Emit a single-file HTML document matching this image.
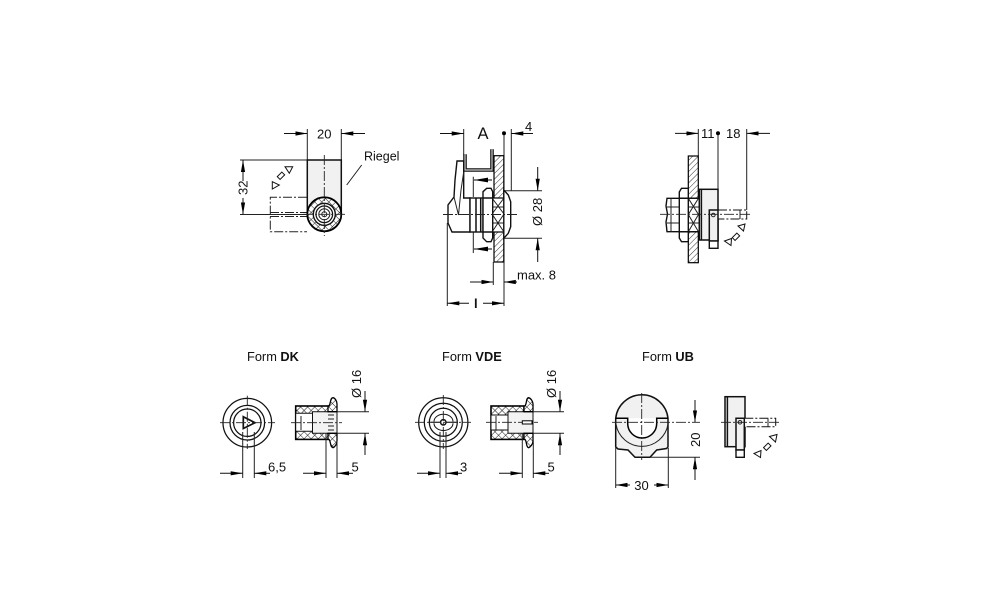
<!DOCTYPE html>
<html><head><meta charset="utf-8"><style>
html,body{margin:0;padding:0;background:#fff;width:1000px;height:611px;overflow:hidden}
svg{display:block}
text{font-family:"Liberation Sans",sans-serif;font-size:13px;fill:#111}
.o{fill:none;stroke:#111;stroke-width:1.5}
.r{fill:none;stroke:#111;stroke-width:1.25}
.g{fill:#f1f1f1;stroke:#111;stroke-width:1.5}
.w{fill:#fff;stroke:#111;stroke-width:1.4}
.d{fill:none;stroke:#222;stroke-width:1}
.c{fill:none;stroke:#222;stroke-width:.9;stroke-dasharray:10 2 2 2}
.p{fill:none;stroke:#222;stroke-width:1;stroke-dasharray:9 2 2 2}
.a{fill:none;stroke:#111;stroke-width:1;marker-end:url(#m)}
.t{fill:#fff;stroke:#111;stroke-width:1}
.f{font-size:12.8px}
</style></head><body>
<svg width="1000" height="611" viewBox="0 0 1000 611" xmlns="http://www.w3.org/2000/svg">
<defs>
<marker id="m" markerUnits="userSpaceOnUse" markerWidth="13" markerHeight="6" refX="12" refY="3" orient="auto"><path d="M0,.9 L12,3 L0,5.1 Z" fill="#000"/></marker>
<pattern id="h" width="4" height="4" patternUnits="userSpaceOnUse" patternTransform="rotate(45)"><rect width="4" height="4" fill="#fff"/><line x1="0" y1="0" x2="0" y2="4" stroke="#333" stroke-width="1"/></pattern>
<pattern id="x" width="5" height="5" patternUnits="userSpaceOnUse" patternTransform="rotate(45)"><rect width="5" height="5" fill="#fff"/><path d="M0,0V5M0,0H5" stroke="#222" stroke-width="1.1"/></pattern>
</defs>

<!-- VIEW 1 -->
<path class="d" d="M307.3,129V160M341.3,129V198M240,160H307M240,214.5H307M346.7,185L361.7,165"/>
<line class="a" x1="284" y1="133.5" x2="307.3" y2="133.5"/><line class="a" x1="365" y1="133.5" x2="341.3" y2="133.5"/>
<line class="a" x1="243" y1="181" x2="243" y2="160"/><line class="a" x1="243" y1="198" x2="243" y2="214.5"/>
<text x="317" y="138.5">20</text><text x="364" y="160.5" style="font-size:12.5px">Riegel</text>
<text transform="translate(247.5,195) rotate(-90)">32</text>
<rect class="g" x="307.3" y="160" width="34" height="54"/>
<path class="p" d="M307,197.3H270.3V231.7H307M270,212.5H307M270,216.5H307"/>
<polygon class="t" points="285,166.7 292.7,166.7 289.3,173.3"/><rect class="t" x="277.7" y="173.7" width="6.5" height="4" transform="rotate(-45 281 175.7)"/><polygon class="t" points="272.3,181.7 272.3,189 279.3,185"/>
<circle cx="324.3" cy="214.3" r="17" fill="url(#x)" stroke="#000" stroke-width="1.8"/>
<circle class="w" cx="324.3" cy="214.3" r="11"/><circle class="r" cx="324.3" cy="214.3" r="8.3"/><circle class="d" cx="324.3" cy="214.3" r="5.5" fill="#e8e8e8"/><circle class="d" cx="324.3" cy="214.3" r="2.5"/>
<path class="c" d="M324.3,155V236M303,214.3H347"/>

<!-- VIEW 2 -->
<path class="d" d="M463.7,129V155M504,133V306M511.3,129V190.7M504,190.7H542M504,238.3H542M493.3,262V285M447.3,223V306M473.3,176.7V197M473.3,232V253"/>
<line class="a" x1="440" y1="133.5" x2="463.7" y2="133.5"/><line class="a" x1="533" y1="133.5" x2="511.3" y2="133.5"/>
<circle cx="504" cy="133.3" r="2" fill="#000"/>
<text x="477.5" y="139" style="font-size:16.5px">A</text><text x="525" y="131">4</text>
<line class="a" x1="537.7" y1="167" x2="537.7" y2="190.7"/><line class="a" x1="537.7" y1="262" x2="537.7" y2="238.3"/>
<text transform="translate(542,226) rotate(-90)">Ø 28</text>
<line class="a" x1="470" y1="282" x2="493.3" y2="282"/><line class="a" x1="517" y1="282" x2="503.8" y2="282"/>
<text x="517" y="279.5">max. 8</text>
<line class="a" x1="469" y1="303.3" x2="447.3" y2="303.3"/><line class="a" x1="483" y1="303.3" x2="504" y2="303.3"/>
<text x="474" y="308" font-weight="bold">l</text>
<path d="M492,180 L474,180 M492,249 L474,249" stroke="#000" stroke-width="1"/><path d="M474,180 L488,177.6 V182.4Z M474,249 L488,246.6 V251.4Z" fill="#000"/>
<rect x="494" y="155.7" width="9.8" height="106.3" fill="url(#h)" stroke="#000" stroke-width="1.2"/>
<path d="M465,154.3V170H492V149.3" fill="none" stroke="#111" stroke-width="3.6"/><path d="M465,154.3V170H492V149.3" fill="none" stroke="#ccc" stroke-width="1.2"/>
<path class="w" d="M457,161H463.7V198H470V232H452L448,223V205L454,197L455,180Z"/>
<path class="d" d="M463.7,172L461,190L458.5,215L454,197"/>
<rect class="w" x="470" y="198" width="13" height="34"/><path class="o" d="M476,198V232M480.7,198V232"/>
<rect x="492" y="198" width="12" height="34" fill="#fff" stroke="#000" stroke-width="1.2"/><path class="d" d="M492,198L504,214L492,232M504,198L492,214L504,232M492,207H504M492,223H504"/>
<path class="w" d="M483,191.7L486.7,188.3H491L492.7,191.7V238L491,241.7H486.7L483,238ZM483,198H492.7M483,232H492.7"/>
<path class="w" d="M503.8,190L508.3,195L510.7,201.7V226.7L508.3,233.3L503.8,238.3Z"/>
<path class="c" d="M443,214.5H518"/>

<!-- VIEW 3 -->
<path class="d" d="M698.3,129V156M718,133V190M746.7,129V210"/>
<line class="a" x1="675" y1="133.4" x2="698.3" y2="133.4"/><line class="a" x1="770" y1="133.4" x2="746.7" y2="133.4"/>
<circle cx="718" cy="133.3" r="2" fill="#000"/>
<text x="701" y="138">11</text><text x="726" y="138">18</text>
<rect x="688.3" y="156" width="10" height="106.7" fill="url(#h)" stroke="#000" stroke-width="1.2"/>
<rect x="688.3" y="198.3" width="10.5" height="33.4" fill="#fff"/><path class="d" d="M688.3,198.3L698.5,214.5L688.3,231.7M698.5,198.3L688.3,214.5L698.5,231.7M688.3,207H699M688.3,223H699"/><path class="o" d="M688.3,198.3H699M688.3,231.7H699"/>
<rect class="g" x="699.3" y="189.3" width="18.7" height="50.7"/><path class="o" d="M701.4,189.3V240"/>
<rect x="718" y="210" width="28.7" height="9" fill="#fff" stroke="#111" stroke-width="1" stroke-dasharray="9 2 2 2"/><path class="d" d="M740,210V219"/>
<path class="g" d="M709.3,210H718V241H709.3Z"/><rect class="w" x="709.3" y="241" width="8.7" height="7.3"/>
<circle class="d" cx="713.3" cy="215" r="1.8"/>
<path class="w" d="M681.5,188.3H688.3V241.7H681.5L679.3,238V192Z"/><path class="o" d="M679.3,198.3H688.3M679.3,231.7H688.3"/>
<path class="w" d="M679.3,198.3H667L666,206L667.5,214L666,222L667,231.7H679.3Z"/><path class="d" d="M671,198.3V231.7M667,207H679.3M667,223H679.3"/>
<path class="c" d="M660,214.3H752"/>
<polygon class="t" points="738,226 745,224 743.5,231"/><rect class="t" x="732.7" y="234.7" width="6.5" height="4" transform="rotate(-45 736 236.7)"/><polygon class="t" points="724.5,241 731.5,238.5 731,245.5"/>

<!-- FORM DK -->
<text x="247" y="361" class="f">Form <tspan font-weight="bold">DK</tspan></text>
<circle class="r" cx="247.3" cy="422.7" r="24.3"/><circle class="r" cx="247.3" cy="422.7" r="17.3"/><circle class="r" cx="247.3" cy="422.7" r="13.7"/>
<polygon class="w" points="243.3,416.7 255,422.7 243.3,428.5" style="stroke-width:1.7"/>
<path class="c" d="M220,422.7H275M247.3,395.7V449"/>
<path class="d" d="M242.7,432V478M254.3,432V478"/>
<line class="a" x1="220" y1="473.3" x2="242.7" y2="473.3"/><line class="a" x1="270" y1="473.3" x2="254.3" y2="473.3"/>
<text x="268" y="471.7">6,5</text>
<rect x="295.7" y="406" width="33" height="33.4" fill="url(#x)" stroke="#000" stroke-width="1.6"/>
<path d="M295.7,413.3H313V431.3H295.7Z" fill="#fff" stroke="#111" stroke-width="1"/><path d="M312.5,411.7H337V433.3H312.5Z" fill="#f3f3f3" stroke="#111" stroke-width="1"/>
<path d="M328,406H329C331,403 330,398 333,397.7C335,398 337,401 337,404V411.7H328ZM328,439.4H329C331,442 330,447 333,447.7C335,447 337,444 337,441V433.3H328Z" fill="url(#x)" stroke="#000" stroke-width="1.3"/>
<path class="d" d="M328,415H334M328,419H334M328,426H334M328,430H334M301,416V430"/>
<path class="c" d="M291,422.7H342"/>
<path class="d" d="M337,411.7H369M337,433.3H369M326,433V478M337,441V478"/>
<line class="a" x1="365" y1="391" x2="365" y2="411.7"/><line class="a" x1="365" y1="455" x2="365" y2="433.3"/>
<line class="a" x1="303" y1="473.3" x2="326" y2="473.3"/><line class="a" x1="353" y1="473.3" x2="337" y2="473.3"/>
<text transform="translate(361,398) rotate(-90)">Ø 16</text>
<text x="351.5" y="471.7">5</text>

<!-- FORM VDE -->
<text x="442" y="361" class="f">Form <tspan font-weight="bold">VDE</tspan></text>
<circle class="r" cx="443.3" cy="422.3" r="24.6"/><circle class="r" cx="443.3" cy="422.3" r="19"/><circle class="r" cx="443.3" cy="422.3" r="14"/>
<path class="r" style="stroke-width:1" d="M434,421.5A9.5,7.3 0 0 1 453,421.5M434,423.2A9.5,7.3 0 0 0 453,423.2M430,422.3H440.5M446,422.3H456.5"/>
<circle class="w" cx="443.3" cy="422.3" r="2.7" style="stroke-width:1.5"/>
<path class="c" d="M415,422.3H471M443.3,395V449"/>
<path class="d" d="M440,432V478M446,432V478"/>
<line class="a" x1="417" y1="473.3" x2="440" y2="473.3"/><line class="a" x1="462" y1="473.3" x2="446" y2="473.3"/>
<text x="460" y="471.7">3</text>
<rect x="491" y="406" width="33" height="33.4" fill="url(#x)" stroke="#000" stroke-width="1.6"/>
<path d="M491,415H508.5V430H491Z" fill="#fff" stroke="#111" stroke-width="1"/><path d="M508,411.7H533V433.3H508Z" fill="#f3f3f3" stroke="#111" stroke-width="1"/>
<path d="M524,406H525C527,403 526,398 528.5,397.7C530.5,398 533,401 533,404V411.7H524ZM524,439.4H525C527,442 526,447 528.5,447.7C530.5,447 533,444 533,441V433.3H524Z" fill="url(#x)" stroke="#000" stroke-width="1.3"/>
<path class="d" d="M496,416V430"/>
<path class="c" d="M486,422.3H538"/>
<rect x="522.3" y="420.8" width="9.7" height="3.2" fill="#fff" stroke="#000" stroke-width="1"/>
<path class="d" d="M533,411.7H564M533,433.3H564M522.3,433V478M533.3,441V478"/>
<line class="a" x1="560" y1="391" x2="560" y2="411.7"/><line class="a" x1="560" y1="455" x2="560" y2="433.3"/>
<line class="a" x1="499" y1="473.3" x2="522.3" y2="473.3"/><line class="a" x1="549" y1="473.3" x2="533.3" y2="473.3"/>
<text transform="translate(556,398) rotate(-90)">Ø 16</text>
<text x="547.5" y="471.7">5</text>

<!-- FORM UB -->
<text x="642" y="361" class="f">Form <tspan font-weight="bold">UB</tspan></text>
<path class="g" d="M615.7,418.3A26.3,26.3 0 0 1 668,418.3V447L666.5,448.5L656.7,450L650,457.3H635L628,450L618,449L615.7,447Z"/>
<path fill="#fff" stroke="#000" stroke-width="1.5" d="M615.7,418.3H627.7V423.5A14.5,14.5 0 0 0 656.7,423.5V418.3H668"/>
<path class="d" stroke-width=".8" d="M616,424A26.3,26.3 0 0 0 668,424"/>
<path class="c" d="M612,422.3H700M641.7,393V460"/>
<path class="d" d="M650,457.3H700M615.7,448V488M668.3,448V488"/>
<line class="a" x1="695" y1="400" x2="695" y2="422.3"/><line class="a" x1="695" y1="480" x2="695" y2="457.3"/>
<text transform="translate(700,447) rotate(-90)">20</text>
<line class="a" x1="630" y1="485" x2="615.7" y2="485"/><line class="a" x1="654" y1="485" x2="668.3" y2="485"/>
<text x="634.3" y="490">30</text>
<rect class="g" x="725" y="396.7" width="20" height="50"/><path class="o" d="M727.4,396.7V446.7"/>
<rect x="744.3" y="418.3" width="31.4" height="8.4" fill="#fff" stroke="#111" stroke-width="1" stroke-dasharray="9 2 2 2"/><path class="d" d="M768,418.3V426.7"/>
<path class="g" d="M736,418.3H744.3V450H736Z"/><rect class="w" x="736" y="450" width="8.3" height="7.3"/>
<circle class="d" cx="740" cy="422.3" r="1.8"/>
<path class="c" d="M721,422.3H781"/>
<polygon class="t" points="769.5,436.5 777,434.5 775.5,442"/><rect class="t" x="764" y="444.7" width="6.5" height="4" transform="rotate(-45 767.3 446.7)"/><polygon class="t" points="754,453.5 761,450.5 760.5,457.5"/>
</svg>
</body></html>
